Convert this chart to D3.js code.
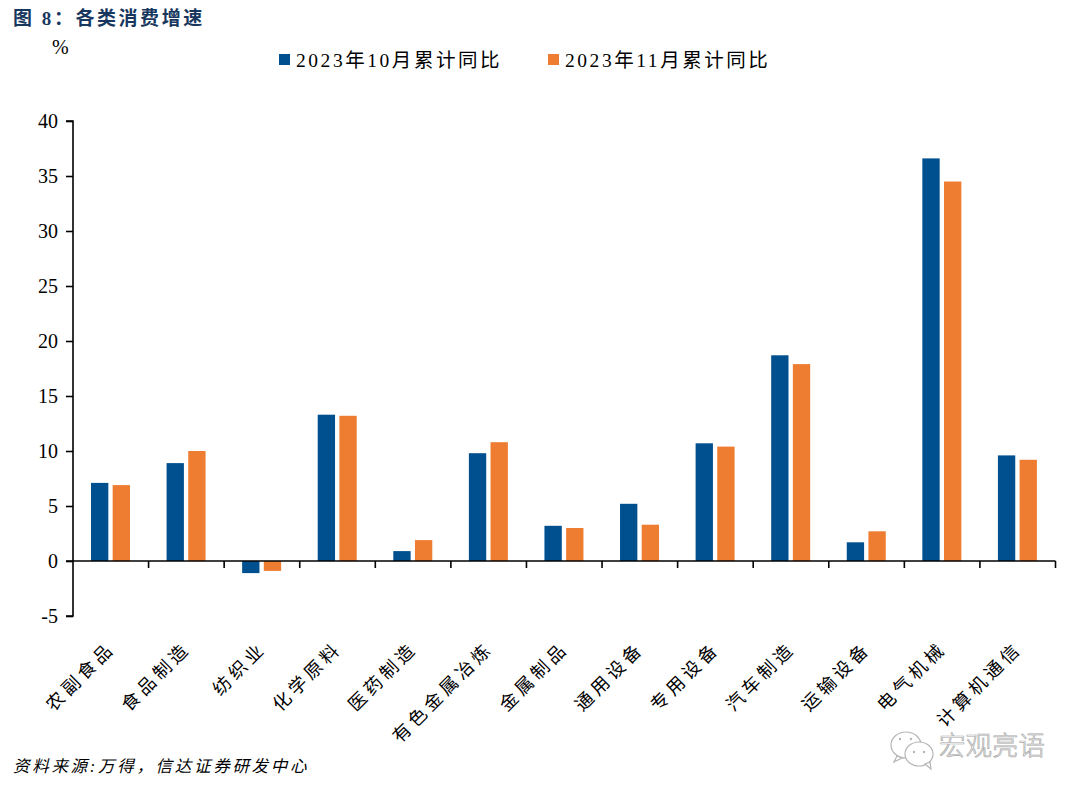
<!DOCTYPE html>
<html><head><meta charset="utf-8">
<script src="https://cdn.jsdelivr.net/npm/d3@7"></script>
<style>html,body{margin:0;background:#fff}svg{display:block}
text{font-family:"Liberation Serif","Noto Sans CJK SC",serif;fill:#000}</style></head>
<body><svg id="c" width="1080" height="793"></svg>
<script>
const categories=["农副食品","食品制造","纺织业","化学原料","医药制造","有色金属冶炼","金属制品","通用设备","专用设备","汽车制造","运输设备","电气机械","计算机通信"];
const seriesNames=["2023年10月累计同比","2023年11月累计同比"];
const oct=[7.1,8.9,-1.1,13.3,0.9,9.8,3.2,5.2,10.7,18.7,1.7,36.6,9.6];
const nov=[6.9,10.0,-0.9,13.2,1.9,10.8,3.0,3.3,10.4,17.9,2.7,34.5,9.2];
const yTicks=[-5,0,5,10,15,20,25,30,35,40];
const colors=["#00508f","#ee7d31"];
const title="图 8：各类消费增速", source="资料来源:万得，信达证券研发中心", mark="宏观亮语";

const svg=d3.select("#c");
const x=d3.scaleBand().domain(categories).range([73,1055.5]);
const y=d3.scaleLinear().domain([-5,40]).range([616,121]);
const sub=d3.scaleBand().domain([0,1]).range([0,39]).paddingInner(0.2);
const off=(x.bandwidth()-39)/2-0.3;

[oct,nov].forEach((vals,s)=>{
  svg.append("g").selectAll("rect").data(vals).join("rect")
    .attr("x",(d,i)=>x(categories[i])+off+sub(s))
    .attr("width",sub.bandwidth())
    .attr("y",d=>y(Math.max(0,d)))
    .attr("height",d=>Math.abs(y(d)-y(0)))
    .attr("fill",colors[s]);
});

const ya=svg.append("g").attr("transform","translate(73,0)")
  .call(d3.axisLeft(y).tickValues(yTicks).tickSize(7).tickPadding(8).tickFormat(d=>String(d)));
ya.selectAll("path,line").attr("stroke","#000").attr("stroke-width",1.6);
ya.selectAll("text").attr("font-size",20).attr("dy","0.32em");
ya.select(".domain").attr("d",`M-7,${y(40)}H0V${y(-5)}H-7`);

const xa=svg.append("g").attr("transform",`translate(0,${y(0)})`);
xa.append("line").attr("x1",66).attr("x2",1055.5).attr("stroke","#000").attr("stroke-width",1.6);
xa.selectAll("line.t").data(categories).join("line").attr("class","t")
  .attr("x1",d=>x(d)+x.bandwidth()).attr("x2",d=>x(d)+x.bandwidth())
  .attr("y1",0).attr("y2",7).attr("stroke","#000").attr("stroke-width",1.6);

svg.append("g").selectAll("text").data(categories).join("text")
  .attr("text-anchor","end").attr("font-size",18).attr("letter-spacing",4.2)
  .attr("transform",d=>`translate(${x(d)+x.bandwidth()/2+1},${645}) rotate(-45)`)
  .attr("dy","0.35em").text(d=>d);

svg.append("text").attr("x",13).attr("y",25).attr("font-size",19).attr("font-weight",700)
  .attr("letter-spacing",2.55).style("fill","#17375e").text(title);
svg.append("text").attr("x",52).attr("y",54).attr("font-size",20).text("%");

const lx=[279,548];
seriesNames.forEach((n,i)=>{
  svg.append("rect").attr("x",lx[i]).attr("y",54).attr("width",11).attr("height",11).attr("fill",colors[i]);
  svg.append("text").attr("x",lx[i]+17).attr("y",67).attr("font-size",19.5).attr("letter-spacing",2.55).text(n);
});

svg.append("text").attr("x",13).attr("y",772).attr("font-size",16.5).attr("font-style","italic")
  .attr("letter-spacing",2.7).text(source);

const wm=svg.append("g").attr("fill","#fff").attr("stroke","#b5b5b5").attr("stroke-width",1.2);
wm.append("ellipse").attr("cx",906).attr("cy",745).attr("rx",15).attr("ry",13);
wm.append("path").attr("d","M897,756l-3,6l8,-4z");
wm.append("ellipse").attr("cx",919).attr("cy",754).attr("rx",14).attr("ry",12);
wm.append("path").attr("d","M925,764l6,5l-1,-7z");
wm.selectAll("circle").data([[900,739],[911,739],[914,752],[924,752]]).join("circle")
  .attr("cx",d=>d[0]).attr("cy",d=>d[1]).attr("r",1.2).attr("fill","#b5b5b5").attr("stroke","none");
svg.append("text").attr("x",939).attr("y",755).attr("font-size",26.5).attr("font-weight",300)
  .style("fill","#fff").style("stroke","#a8a8a8").style("stroke-width",0.7).text(mark);
</script></body></html>
